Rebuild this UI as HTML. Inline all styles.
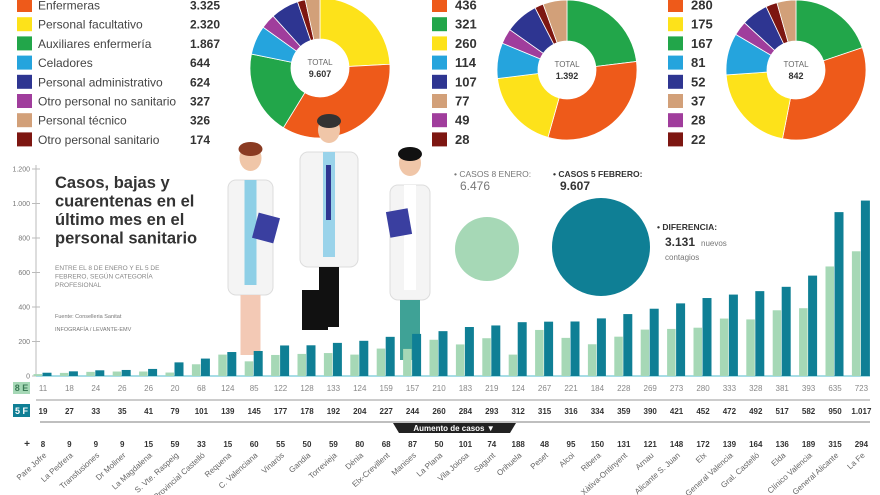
<!DOCTYPE html>
<html><head><meta charset="utf-8">
<style>
html,body{margin:0;padding:0;background:#fff;}
body{width:880px;height:495px;overflow:hidden;position:relative;font-family:"Liberation Sans",sans-serif;}
svg{position:absolute;left:0;top:0;}
</style></head>
<body>
<svg id="s" width="880" height="495" xmlns="http://www.w3.org/2000/svg" font-family="Liberation Sans, sans-serif"></svg>
<script>
const S=document.getElementById('s');const NS='http://www.w3.org/2000/svg';
function el(t,a,txt){const e=document.createElementNS(NS,t);for(const k in a)e.setAttribute(k,a[k]);if(txt!==undefined)e.textContent=txt;S.appendChild(e);return e;}
const C={or:'#ee5a1a',ye:'#fde21a',gr:'#22a64a',cy:'#25a4dd',nv:'#2e3591',pu:'#a03d9c',tn:'#d2a079',dr:'#7d1611'};
// legends
const L=[['or','Enfermeras','3.325'],['ye','Personal facultativo','2.320'],['gr','Auxiliares enfermería','1.867'],['cy','Celadores','644'],['nv','Personal administrativo','624'],['pu','Otro personal no sanitario','327'],['tn','Personal técnico','326'],['dr','Otro personal sanitario','174']];
L.forEach((r,i)=>{const y=5+i*19.2;el('rect',{x:17,y:y-7,width:15,height:14,fill:C[r[0]]});
el('text',{x:38,y:y+4.5,'font-size':12,fill:'#444'},r[1]);el('text',{x:190,y:y+4.5,'font-size':12,'font-weight':'bold',fill:'#333'},r[2]);});
const M=[['or','436'],['gr','321'],['ye','260'],['cy','114'],['nv','107'],['tn','77'],['pu','49'],['dr','28']];
const R=[['or','280'],['ye','175'],['gr','167'],['cy','81'],['nv','52'],['tn','37'],['pu','28'],['dr','22']];
[[M,432],[R,668]].forEach(([A,x])=>A.forEach((r,i)=>{const y=5+i*19.2;el('rect',{x:x,y:y-7,width:15,height:14,fill:C[r[0]]});
el('text',{x:x+23,y:y+4.5,'font-size':13,'font-weight':'bold',fill:'#333'},r[1]);}));
// donuts
function donut(cx,cy,segs,total){let a=0;const sum=segs.reduce((s,x)=>s+x[1],0);const ro=70,ri=29;
segs.forEach(([c,v])=>{const a1=a+v/sum*2*Math.PI;const p=(r,t)=>[cx+r*Math.sin(t),cy-r*Math.cos(t)];
const la=(a1-a)>Math.PI?1:0;const [x1,y1]=p(ro,a),[x2,y2]=p(ro,a1),[x3,y3]=p(ri,a1),[x4,y4]=p(ri,a);
el('path',{d:`M${x1},${y1}A${ro},${ro} 0 ${la} 1 ${x2},${y2}L${x3},${y3}A${ri},${ri} 0 ${la} 0 ${x4},${y4}Z`,fill:C[c],stroke:'#fff','stroke-width':0.8});a=a1;});
el('text',{x:cx,y:cy-3,'font-size':8,fill:'#666','text-anchor':'middle'},'TOTAL');
el('text',{x:cx,y:cy+9,'font-size':9,'font-weight':'bold',fill:'#333','text-anchor':'middle'},total);}
donut(320,68,[['ye',2320],['or',3325],['gr',1867],['cy',644],['pu',327],['nv',624],['dr',174],['tn',326]],'9.607');
donut(567,70,[['gr',321],['or',436],['ye',260],['cy',114],['pu',49],['nv',107],['dr',28],['tn',77]],'1.392');
donut(796,70,[['gr',167],['or',280],['ye',175],['cy',81],['pu',28],['nv',52],['dr',22],['tn',37]],'842');
// axis
const y0=376,k=0.1725;
el('line',{x1:36,y1:165,x2:36,y2:y0,stroke:'#bbb','stroke-width':1});
for(let v=0;v<=1200;v+=200){const y=y0-v*k;el('line',{x1:32,y1:y,x2:40,y2:y,stroke:'#bbb'});
el('text',{x:30,y:y+2.5,'font-size':7,fill:'#777','text-anchor':'end'},v==0?'0':v.toLocaleString('de-DE'));}
el('line',{x1:36,y1:y0,x2:870,y2:y0,stroke:'#a7dde6','stroke-width':2});
// title block
['Casos, bajas y','cuarentenas en el','último mes en el','personal sanitario'].forEach((t,i)=>el('text',{x:55,y:188+i*18.5,'font-size':16.5,'font-weight':'bold',fill:'#333'},t));
['ENTRE EL 8 DE ENERO Y EL 5 DE','FEBRERO, SEGÚN CATEGORÍA','PROFESIONAL'].forEach((t,i)=>el('text',{x:55,y:270+i*8.5,'font-size':6.5,fill:'#888'},t));
el('text',{x:55,y:318,'font-size':5.5,fill:'#777'},'Fuente: Conselleria Sanitat');
el('text',{x:55,y:331,'font-size':5.5,fill:'#777'},'INFOGRAFÍA / LEVANTE-EMV');
// figures (simplified)
function doc(x,w,coatTop,shirt,pants,skin,hair){
el('ellipse',{cx:x+w/2,cy:coatTop-22,rx:11,ry:13,fill:skin});
el('ellipse',{cx:x+w/2,cy:coatTop-31,rx:12,ry:7,fill:hair});
el('rect',{x:x,y:coatTop,width:w,height:115,rx:8,fill:'#f4f4f4',stroke:'#ddd'});
el('rect',{x:x+w/2-6,y:coatTop,width:12,height:105,fill:shirt});
el('rect',{x:x+w/2-10,y:coatTop+115,width:20,height:60,fill:pants});}
doc(228,45,180,'#8ecfe6','#f3c9b5','#f0c6a8','#8a3b22');
el('rect',{x:255,y:215,width:22,height:26,fill:'#3a3fa0',transform:'rotate(15 266 228)'});
doc(300,58,152,'#9ad3ea','#111','#f0c6a8','#333');
el('rect',{x:326,y:165,width:5,height:55,fill:'#2e3591'});
el('rect',{x:302,y:290,width:26,height:40,fill:'#111'});
doc(390,40,185,'#ffffff','#3fa296','#f0c6a8','#111');
el('rect',{x:388,y:210,width:22,height:26,fill:'#3a3fa0',transform:'rotate(-10 399 223)'});
// circles
el('circle',{cx:487,cy:249,r:32,fill:'#a6d8b6'});
el('circle',{cx:601,cy:247,r:49,fill:'#0f7f95'});
el('text',{x:454,y:177,'font-size':8.5,fill:'#777'},'• CASOS 8 ENERO:');
el('text',{x:460,y:190,'font-size':12,fill:'#777'},'6.476');
el('text',{x:553,y:177,'font-size':8.5,'font-weight':'bold',fill:'#333'},'• CASOS 5 FEBRERO:');
el('text',{x:560,y:190,'font-size':12,'font-weight':'bold',fill:'#333'},'9.607');
el('text',{x:657,y:230,'font-size':8.5,'font-weight':'bold',fill:'#333'},'• DIFERENCIA:');
el('text',{x:665,y:246,'font-size':12,'font-weight':'bold',fill:'#333'},'3.131');
el('text',{x:701,y:246,'font-size':8,fill:'#777'},'nuevos');
el('text',{x:665,y:260,'font-size':8,fill:'#777'},'contagios');
// bars
const e8=[11,18,24,26,26,20,68,124,85,122,128,133,124,159,157,210,183,219,124,267,221,184,228,269,273,280,333,328,381,393,635,723];
const f5=[19,27,33,35,41,79,101,139,145,177,178,192,204,227,244,260,284,293,312,315,316,334,359,390,421,452,472,492,517,582,950,1017];
const names=['Pare Jofre','La Pedrera','Transfusiones','Dr Moliner','La Magdalena','S. Vte. Raspeig','Provincial Castelló','Requena','C. Valenciana','Vinaròs','Gandia','Torrevieja','Dénia','Elx-Crevillent','Manises','La Plana','Vila Joiosa','Sagunt','Orihuela','Peset','Alcoi','Ribera','Xàtiva-Ontinyent','Arnau','Alicante S. Juan','Elx','General Valencia','Gral. Castelló','Elda','Clínico Valencia','General Alicante','La Fe'];
el('rect',{x:13,y:382,width:17,height:12,fill:'#a6d8b6'});el('text',{x:21.5,y:391,'font-size':9,'font-weight':'bold',fill:'#3a7a55','text-anchor':'middle'},'8 E');
el('rect',{x:13,y:404,width:17,height:13,fill:'#0f7f95'});el('text',{x:21.5,y:414,'font-size':9,'font-weight':'bold',fill:'#fff','text-anchor':'middle'},'5 F');
el('line',{x1:36,y1:400,x2:870,y2:400,stroke:'#999'});
el('line',{x1:40,y1:422,x2:870,y2:422,stroke:'#999','stroke-width':1.2});
el('path',{d:'M393,423H516L510,433H399Z',fill:'#222'});
el('text',{x:454,y:431,'font-size':8,'font-weight':'bold',fill:'#fff','text-anchor':'middle'},'Aumento de casos ▼');
el('text',{x:27,y:447,'font-size':10,'font-weight':'bold',fill:'#333','text-anchor':'middle'},'+');
for(let i=0;i<32;i++){const c=43+i*26.4;
el('rect',{x:c-9.5,y:y0-e8[i]*k,width:8.5,height:e8[i]*k,fill:'#a6d8b6'});
el('rect',{x:c-0.5,y:y0-f5[i]*k,width:9,height:f5[i]*k,fill:'#0f7f95'});
el('text',{x:c,y:391,'font-size':8,fill:'#888','text-anchor':'middle'},e8[i]);
el('text',{x:c,y:414,'font-size':8,'font-weight':'bold',fill:'#333','text-anchor':'middle'},f5[i].toLocaleString('de-DE'));
el('text',{x:c,y:447,'font-size':8,'font-weight':'bold',fill:'#333','text-anchor':'middle'},f5[i]-e8[i]);
el('text',{x:c+4,y:456,'font-size':8,fill:'#666','text-anchor':'end',transform:`rotate(-42 ${c+4} 456)`},names[i]);}
</script>
</body></html>
